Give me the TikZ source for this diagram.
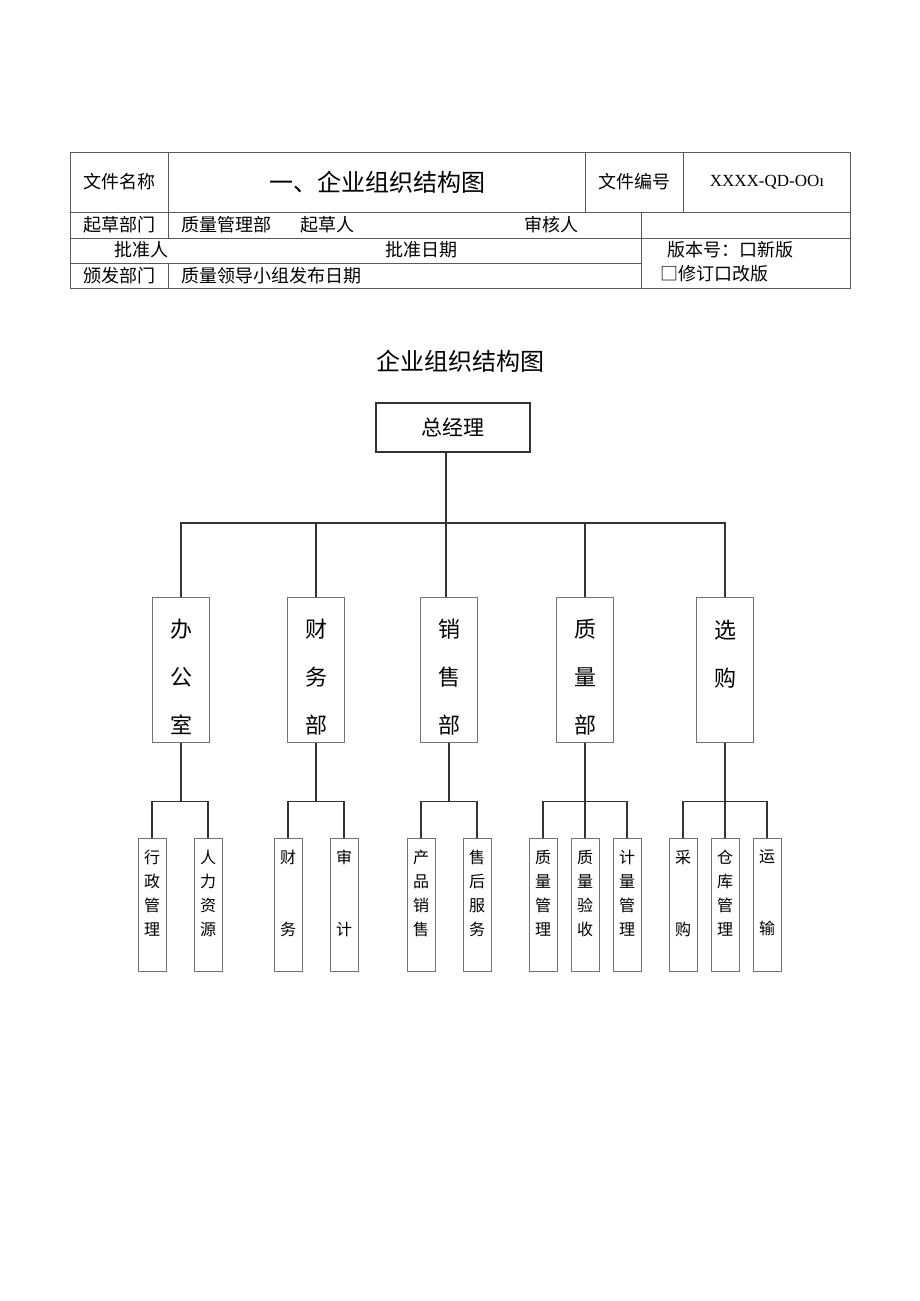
\documentclass[tikz,border=0pt]{standalone}
\usepackage{fontspec}
\setmainfont{Noto Sans CJK SC}
\newfontfamily\latinfont{Liberation Serif}
\newcommand{\deptpad}{\rule{0pt}{34pt}}
\begin{document}
\begin{tikzpicture}[x=1pt,y=-1pt,
  cell/.style={inner sep=0pt,font=\fontsize{18}{20}\selectfont},
  grid/.style={draw=black!65,line width=1pt},
  top/.style={draw=black!80,line width=1.8pt,minimum width=154pt,minimum height=49pt,font=\fontsize{21}{24}\selectfont},
  dept/.style={draw=black!55,line width=1pt,minimum width=57pt,minimum height=145pt,align=center,inner sep=0pt,font=\fontsize{22}{48}\selectfont},
  unit/.style={draw=black!55,line width=1pt,minimum width=28pt,minimum height=133pt,align=center,inner sep=0pt,font=\fontsize{16}{24}\selectfont},
  conn/.style={draw=black!80,line width=1.6pt}]
\useasboundingbox (0,0) rectangle (920,1301);
% header table
\draw[grid] (70,152) rectangle (850,288);
\draw[grid] (70,212) -- (850,212);
\draw[grid] (70,238) -- (850,238);
\draw[grid] (70,263) -- (641,263);
\draw[grid] (168,152) -- (168,238);
\draw[grid] (168,263) -- (168,288);
\draw[grid] (585,152) -- (585,212);
\draw[grid] (683,152) -- (683,212);
\draw[grid] (641,212) -- (641,288);
\node[cell] (wjmc) at (119,182) {文件名称};
\node[cell,font=\fontsize{24}{28}\selectfont] (title) at (377,182) {一、企业组织结构图};
\node[cell] (wjbh) at (634,182) {文件编号};
\node[cell,font=\latinfont\fontsize{17}{20}\selectfont] (code) at (767,182) {XXXX-QD-OOı};
\node[cell] (qcbm) at (119,225) {起草部门};
\node[cell,anchor=west] (zlglb) at (181,225) {质量管理部};
\node[cell,anchor=west] (qcr) at (300,225) {起草人};
\node[cell,anchor=west] (shr) at (524,225) {审核人};
\node[cell] (pzr) at (141,250) {批准人};
\node[cell] (pzrq) at (421,250) {批准日期};
\node[cell] (fbbm) at (119,276) {颁发部门};
\node[cell,anchor=west] (fbrq) at (181,276) {质量领导小组发布日期};
\node[cell,anchor=west] (bbh) at (667,250) {版本号：口新版};
\node[cell,anchor=west] (xd) at (660,274) {□修订口改版};
% chart
\node[cell,font=\fontsize{24}{28}\selectfont] (chart) at (460,361) {企业组织结构图};
\node[top] (gm) at (453,427.5) {总经理};
\node[dept] (ban) at (181,669.5) {\deptpad 办\\公\\室};
\node[dept] (cai) at (316,669.5) {\deptpad 财\\务\\部};
\node[dept] (xiao) at (449,669.5) {\deptpad 销\\售\\部};
\node[dept] (zhi) at (585,669.5) {\deptpad 质\\量\\部};
\node[dept] (xuan) at (725,669.5) {\deptpad 选\\购\\~};
\node[unit] (u11) at (152,904.5) {行\\政\\管\\理\\~};
\node[unit] (u12) at (208,904.5) {人\\力\\资\\源\\~};
\node[unit] (u21) at (288,904.5) {财\\~\\~\\务\\~};
\node[unit] (u22) at (344,904.5) {审\\~\\~\\计\\~};
\node[unit] (u31) at (421,904.5) {产\\品\\销\\售\\~};
\node[unit] (u32) at (477,904.5) {售\\后\\服\\务\\~};
\node[unit] (u41) at (543,904.5) {质\\量\\管\\理\\~};
\node[unit] (u42) at (585,904.5) {质\\量\\验\\收\\~};
\node[unit] (u43) at (627,904.5) {计\\量\\管\\理\\~};
\node[unit] (u51) at (683,904.5) {采\\~\\~\\购\\~};
\node[unit] (u52) at (725,904.5) {仓\\库\\管\\理\\~};
\node[unit] (u53) at (767,904.5) {运\\~\\~\\输\\~};
\coordinate (bus) at (446,523);
\draw[conn] (bus |- gm.south) -- (bus);
\draw[conn] (ban.north) |- (bus) -| (xuan.north);
\draw[conn] (cai.north) -- (cai.north |- bus);
\draw[conn] (bus) -- (bus |- xiao.north);
\draw[conn] (zhi.north) -- (zhi.north |- bus);
\draw[conn] (ban.south) -- ++(0,59) coordinate (b1);
\draw[conn] (u11.north) |- (b1) -| (u12.north);
\draw[conn] (cai.south) -- ++(0,59) coordinate (b2);
\draw[conn] (u21.north) |- (b2) -| (u22.north);
\draw[conn] (xiao.south) -- ++(0,59) coordinate (b3);
\draw[conn] (u31.north) |- (b3) -| (u32.north);
\draw[conn] (zhi.south) -- (u42.north);
\draw[conn] (u41.north) |- (u42.north |- b1) -| (u43.north);
\draw[conn] (xuan.south) -- (u52.north);
\draw[conn] (u51.north) |- (u52.north |- b1) -| (u53.north);
\end{tikzpicture}
\end{document}
